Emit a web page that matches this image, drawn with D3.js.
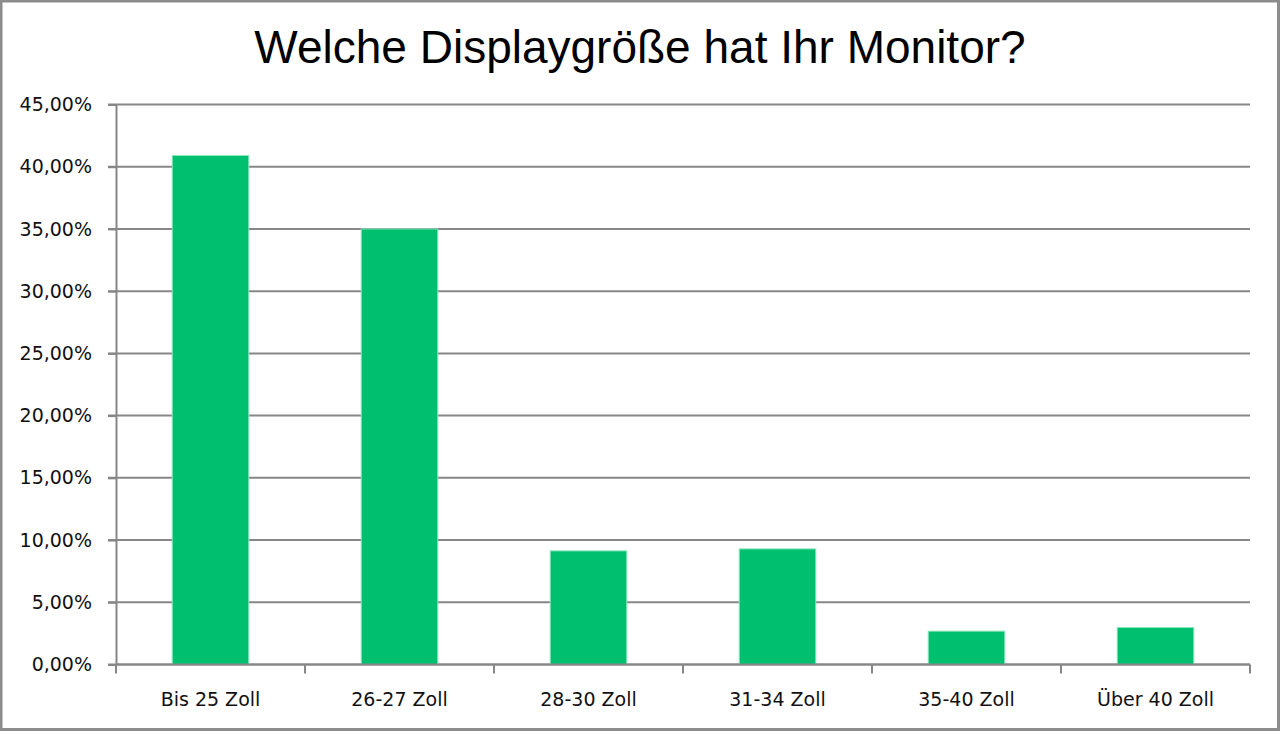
<!DOCTYPE html>
<html>
<head>
<meta charset="utf-8">
<script src="https://cdn.jsdelivr.net/npm/d3@7"></script>
<style>
  html, body { margin: 0; padding: 0; background: #fff; }
  svg { display: block; }
</style>
</head>
<body>
<script>
const TITLE = 'Welche Displaygröße hat Ihr Monitor?'
const categories = ['Bis 25 Zoll', '26-27 Zoll', '28-30 Zoll', '31-34 Zoll', '35-40 Zoll', 'Über 40 Zoll']
const shares = [0.409, 0.350, 0.0913, 0.0929, 0.0268, 0.0297]
const yTicks = [0, 0.05, 0.10, 0.15, 0.20, 0.25, 0.30, 0.35, 0.40, 0.45]

const width = 1280
const height = 731
const margins = { top: 104.5, right: 30, bottom: 66.5, left: 116 }
const BAR_FRACTION = 0.405
const GRID_COLOR = '#878787'
const BAR_COLOR = '#00bf6f'
const LABEL_FONT = '"DejaVu Sans", sans-serif'

const de = d3.formatLocale({ decimal: ',', thousands: '.', grouping: [3], currency: ['', ' €'] })
const pct = de.format('.2%')

const svg = d3.select('body').append('svg')
  .attr('width', width)
  .attr('height', height)
  .attr('viewBox', [0, 0, width, height].join(' '))

// outer frame
svg.append('rect')
  .attr('x', 1).attr('y', 1)
  .attr('width', width - 2.5).attr('height', height - 2.5)
  .attr('fill', '#fff')
  .attr('stroke', '#8c8c8c')
  .attr('stroke-width', 3)

const x = d3.scaleBand()
  .domain(categories)
  .range([margins.left, width - margins.right])
  .paddingInner(0).paddingOuter(0)

const y = d3.scaleLinear()
  .domain([0, 0.45])
  .range([height - margins.bottom, margins.top])

// grid lines (extend left past the axis like the tick marks)
svg.append('g')
  .selectAll('line')
  .data(yTicks)
  .join('line')
  .attr('x1', margins.left - 8)
  .attr('x2', width - margins.right)
  .attr('y1', d => y(d))
  .attr('y2', d => y(d))
  .attr('stroke', GRID_COLOR)
  .attr('stroke-width', 2)

// bars
svg.append('g')
  .selectAll('rect')
  .data(shares)
  .join('rect')
  .attr('x', (d, i) => x(categories[i]) + x.bandwidth() * (1 - BAR_FRACTION) / 2)
  .attr('width', x.bandwidth() * BAR_FRACTION)
  .attr('y', d => y(d))
  .attr('height', d => y(0) - y(d))
  .attr('fill', BAR_COLOR)
  .attr('stroke', '#8ae6bd')
  .attr('stroke-width', 1)

// y axis
const yAxis = svg.append('g')
  .attr('transform', `translate(${margins.left}, 0)`)
  .call(d3.axisLeft(y).tickValues(yTicks).tickFormat(pct).tickSize(8).tickSizeOuter(0).tickPadding(16))
yAxis.select('.domain').attr('stroke', GRID_COLOR).attr('stroke-width', 2)
yAxis.selectAll('.tick line').attr('stroke', GRID_COLOR).attr('stroke-width', 2)
yAxis.selectAll('text')
  .attr('fill', '#111')
  .style('font-family', LABEL_FONT)
  .style('font-size', '19px')

// x axis: ticks sit on category boundaries
const boundaries = categories.map(c => x(c)).concat([width - margins.right])
const xAxisG = svg.append('g')
  .attr('transform', `translate(0, ${y(0)})`)
xAxisG.append('line')
  .attr('x1', margins.left).attr('x2', width - margins.right)
  .attr('stroke', GRID_COLOR).attr('stroke-width', 2)
xAxisG.selectAll('.xtick')
  .data(boundaries)
  .join('line')
  .attr('class', 'xtick')
  .attr('x1', d => d).attr('x2', d => d)
  .attr('y1', 0).attr('y2', 9)
  .attr('stroke', GRID_COLOR).attr('stroke-width', 2)
xAxisG.selectAll('text')
  .data(categories)
  .join('text')
  .attr('x', d => x(d) + x.bandwidth() / 2)
  .attr('y', 41)
  .attr('text-anchor', 'middle')
  .attr('fill', '#111')
  .style('font-family', LABEL_FONT)
  .style('font-size', '19px')
  .text(d => d)

// title
svg.append('text')
  .attr('x', width / 2)
  .attr('y', 63)
  .attr('text-anchor', 'middle')
  .attr('fill', '#000')
  .style('font-family', '"Liberation Sans", Arial, sans-serif')
  .style('font-size', '46px')
  .text(TITLE)
</script>
</body>
</html>
